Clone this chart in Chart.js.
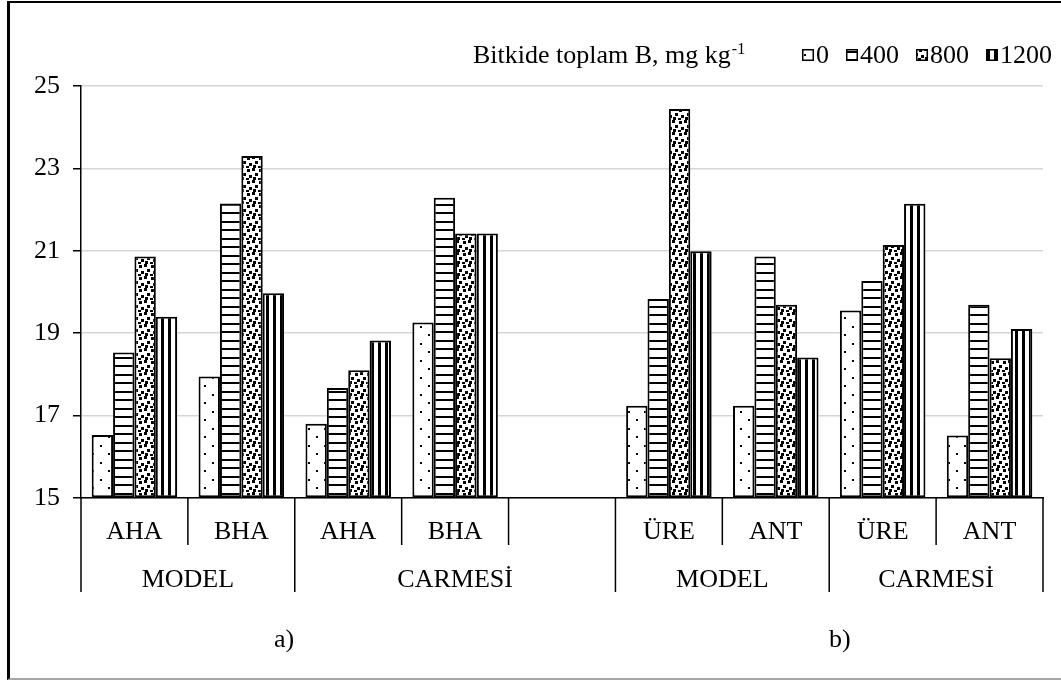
<!DOCTYPE html>
<html><head><meta charset="utf-8">
<script src="https://cdn.jsdelivr.net/npm/chart.js@4.4.1/dist/chart.umd.min.js"></script>
<style>
html,body{margin:0;padding:0;background:#fff;}
#wrap{position:relative;width:1061px;height:681px;overflow:hidden;background:#fff;}
#frame{position:absolute;left:7px;top:1px;width:1100px;height:675px;border-left:3px solid #000;border-top:2px solid #000;border-bottom:2px solid #a6a6a6;}
canvas{position:absolute;left:0;top:0;}
</style></head><body>
<div id="wrap"><div id="frame"></div><canvas id="c" width="1061" height="681"></canvas></div>
<script>
// ---- data ----
const categories = ['AHA','BHA','AHA','BHA','','ÜRE','ANT','ÜRE','ANT'];
const groupLabels = ['MODEL','CARMESİ','MODEL','CARMESİ'];
const groupFirst = [0,2,5,7];
const groupLast  = [1,4,6,8];
const panelLabels = ['a)','b)'];
const panelAt = [1.4, 6.6];
const seriesLabels = ['0','400','800','1200'];
const b0    = [16.53, 17.95, 16.80, 19.26, null, 17.24, 17.24, 19.55, 16.52];
const b400  = [18.53, 22.15, 17.67, 22.29, null, 19.83, 20.86, 20.27, 19.69];
const b800  = [20.86, 23.30, 18.10, 21.42, null, 24.44, 19.69, 21.14, 18.39];
const b1200 = [19.40, 19.97, 18.82, 21.42, null, 20.99, 18.41, 22.14, 19.10];
const yTicks = [15,17,19,21,23,25];
const legendTitle = 'Bitkide toplam B, mg kg';
const legendSup = '-1';

const FONT = '"Liberation Serif", "Times New Roman", serif';
const canvas = document.getElementById('c');
const mainCtx = canvas.getContext('2d');

function makePattern(kind){
  const c = document.createElement('canvas');
  const g = c.getContext('2d');
  if(kind===0){
    c.width=16;c.height=17;
    g.fillStyle='#fff';g.fillRect(0,0,16,17);
    g.fillStyle='#000';g.fillRect(4,3,2,2);g.fillRect(12,11,2,2);
  } else if(kind===1){
    c.width=4;c.height=17;
    g.fillStyle='#fff';g.fillRect(0,0,4,17);
    g.fillStyle='#000';g.fillRect(0,0,4,2);g.fillRect(0,8,4,2);
  } else if(kind===2){
    c.width=12;c.height=12;
    g.fillStyle='#fff';g.fillRect(0,0,12,12);
    g.fillStyle='#000';
    [[0,0],[7,1],[3,5],[9,7],[1,9],[6,10]].forEach(p=>g.fillRect(p[0],p[1],3,3));
  } else {
    c.width=7;c.height=4;
    g.fillStyle='#fff';g.fillRect(0,0,7,4);
    g.fillStyle='#000';g.fillRect(0,0,3,4);
  }
  return mainCtx.createPattern(c,'repeat');
}
const patterns = [0,1,2,3].map(makePattern);
const seriesData = [b0,b400,b800,b1200];

const datasets = seriesData.map((d,i)=>({
  label: seriesLabels[i],
  data: d,
  base: 15,
  backgroundColor: patterns[i],
  borderColor: '#000',
  borderWidth: 2,
  borderSkipped: false,
  categoryPercentage: 0.8,
  barPercentage: 1.0
}));

const labelsPlugin = {
  id:'labelsPlugin',
  afterDraw(chart){
    const ctx = chart.ctx;
    const xs = chart.scales.x;
    const bottom = chart.chartArea.bottom;
    const half = (xs.getPixelForValue(1)-xs.getPixelForValue(0))/2;
    ctx.save();
    ctx.fillStyle='#000';
    ctx.strokeStyle='#000';
    ctx.lineWidth=1.5;
    ctx.font = '26px '+FONT;
    ctx.textAlign='center';
    ctx.textBaseline='alphabetic';
    categories.forEach((c,i)=>{
      if(c) ctx.fillText(c, xs.getPixelForValue(i), 539);
    });
    const fullEdges = new Set();
    groupFirst.forEach(f=>fullEdges.add(f));
    groupLast.forEach(l=>fullEdges.add(l+1));
    for(let e=0;e<=categories.length;e++){
      const x = xs.getPixelForValue(e) - half;
      const y2 = fullEdges.has(e) ? 592 : 545;
      ctx.beginPath();ctx.moveTo(x,bottom);ctx.lineTo(x,y2);ctx.stroke();
    }
    groupLabels.forEach((g,i)=>{
      const x1 = xs.getPixelForValue(groupFirst[i]) - half;
      const x2 = xs.getPixelForValue(groupLast[i]) + half;
      ctx.fillText(g,(x1+x2)/2,587);
    });
    panelLabels.forEach((p,i)=>{
      ctx.fillText(p, xs.getPixelForValue(panelAt[i]), 647);
    });
    // legend
    ctx.textAlign='left';
    ctx.fillText(legendTitle, 473, 63);
    const tw = ctx.measureText(legendTitle).width;
    ctx.font = '16px '+FONT;
    ctx.fillText(legendSup, 473+tw+1, 54);
    ctx.font = '26px '+FONT;
    let x = 802;
    seriesLabels.forEach((l,i)=>{
      ctx.fillStyle = patterns[i];
      ctx.fillRect(x,49,12,12);
      ctx.lineWidth=1.5;
      ctx.strokeRect(x+0.75,49.75,10.5,10.5);
      ctx.fillStyle='#000';
      ctx.fillText(l, x+14, 63);
      x += 14 + ctx.measureText(l).width + 17;
    });
    ctx.restore();
  }
};

new Chart(canvas,{
  type:'bar',
  data:{labels:categories, datasets},
  options:{
    responsive:false,
    animation:false,
    devicePixelRatio:1,
    layout:{padding:{left:0,top:86,right:18,bottom:183}},
    plugins:{legend:{display:false},tooltip:{enabled:false},title:{display:false}},
    scales:{
      x:{
        offset:true,
        grid:{display:false},
        ticks:{display:false},
        border:{display:true,color:'#000',width:1.5},
        afterFit(s){s.height=0;}
      },
      y:{
        min:15,max:25,
        afterBuildTicks(s){s.ticks = yTicks.map(v=>({value:v}));},
        afterFit(s){s.width=81;},
        grid:{color:'#d6d6d6',lineWidth:1.5,tickColor:'#000',tickLength:8,tickWidth:1.5},
        border:{display:true,color:'#000',width:1.5},
        ticks:{color:'#000',padding:13,font:{family:FONT,size:26}}
      }
    }
  },
  plugins:[labelsPlugin]
});
</script>
</body></html>
